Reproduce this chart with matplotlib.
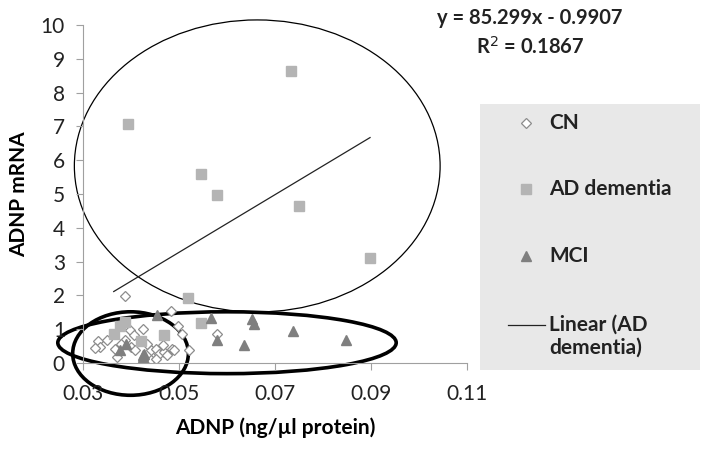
import matplotlib
matplotlib.use("Agg")
import matplotlib.pyplot as plt
from matplotlib.patches import Ellipse, Rectangle
from matplotlib.lines import Line2D
import numpy as np

plt.rcParams['font.family'] = ['Lato', 'DejaVu Sans']

# CN (control) points
cn_x = [0.0387, 0.0483, 0.0497, 0.0506, 0.0579, 0.0424, 0.0520, 0.0331, 0.0336,
        0.0326, 0.0350, 0.0367, 0.0370, 0.0388, 0.0397, 0.0400, 0.0409, 0.0441,
        0.0452, 0.0459, 0.0469, 0.0476, 0.0486, 0.0441, 0.0452, 0.0466, 0.0407,
        0.0490, 0.0379, 0.0434]
cn_y = [1.97, 1.54, 1.09, 0.87, 0.87, 1.00, 0.39, 0.64, 0.47,
        0.44, 0.67, 0.42, 0.18, 0.67, 0.97, 0.47, 0.38, 0.38,
        0.42, 0.28, 0.33, 0.23, 0.42, 0.08, 0.13, 0.52, 0.82,
        0.38, 0.57, 0.57]

# AD dementia points
ad_x = [0.0394, 0.0733, 0.0546, 0.0579, 0.0749, 0.0898, 0.0518, 0.0546, 0.0468,
        0.0421, 0.0388, 0.0364, 0.0378]
ad_y = [7.06, 8.64, 5.58, 4.97, 4.64, 3.12, 1.92, 1.18, 0.82,
        0.64, 1.21, 0.87, 1.10]

# MCI points
mci_x = [0.0455, 0.0566, 0.0652, 0.0656, 0.0580, 0.0635, 0.0738, 0.0848, 0.0426,
         0.0378, 0.0424, 0.0390, 0.0428]
mci_y = [1.41, 1.34, 1.31, 1.15, 0.67, 0.54, 0.95, 0.69, 0.18,
         0.38, 0.23, 0.57, 0.28]

# trendline for AD dementia
slope, intercept = 85.299, -0.9907
r2 = 0.1867

# hand-drawn ellipses (center x, center y, width, height, line width)
ellipses = [(0.0663, 5.83, 0.0762, 8.64, 0.9),
            (0.0600, 0.60, 0.0705, 1.83, 2.6),
            (0.0399, 0.28, 0.0241, 2.47, 2.6)]

W, H = 712, 449
def fx(px):
    return px / W
def fy(py):
    return 1 - py / H

fig = plt.figure(figsize=(7.12, 4.49), dpi=100)
ax = fig.add_axes([fx(83), fy(363), (467 - 83) / W, (363 - 25) / H])

ax.plot(cn_x, cn_y, 'D', ms=5.2, mfc='white', mec='#8c8c8c', mew=0.9, ls='none')
ax.plot(ad_x, ad_y, 's', ms=7.5, color='#b4b4b4', ls='none')
ax.plot(mci_x, mci_y, '^', ms=7.5, color='#7f7f7f', ls='none')

xs = np.array([min(ad_x), max(ad_x)])
ax.plot(xs, slope * xs + intercept, color='#222222', lw=0.9)

for cx, cy, w, h, lw in ellipses:
    ax.add_patch(Ellipse((cx, cy), w, h, fill=False, ec='black', lw=lw, clip_on=False))

ax.set_xlim(0.03, 0.11)
ax.set_ylim(0, 10)
ax.set_xticks([0.03, 0.05, 0.07, 0.09, 0.11])
ax.set_xticklabels(['0.03', '0.05', '0.07', '0.09', '0.11'])
ax.set_yticks(range(0, 11))
for s in ['top', 'right']:
    ax.spines[s].set_visible(False)
for s in ['left', 'bottom']:
    ax.spines[s].set_color('#a0a0a0')
ax.tick_params(colors='#a0a0a0', labelcolor='#222222', labelsize=15, length=5)
ax.tick_params(axis='x', pad=10)
ax.tick_params(axis='y', pad=8)
ax.set_xlabel('ADNP (ng/µl protein)', fontsize=15, fontweight='bold', labelpad=10)
ax.set_ylabel('ADNP mRNA', fontsize=15, fontweight='bold', labelpad=8)

fig.text(fx(530), fy(18), 'y = 85.299x - 0.9907', ha='center', va='center',
         fontsize=14.5, fontweight='bold', color='#222222')
fig.text(fx(530), fy(47), 'R$^2$ = 0.1867', ha='center', va='center',
         fontsize=14.5, fontweight='bold', color='#222222')

# legend
fig.add_artist(Rectangle((fx(480), fy(370)), 220 / W, 266 / H,
                         transform=fig.transFigure, fc='#e8e8e8', ec='none', zorder=0))
fig.add_artist(Line2D([fx(526)], [fy(123)], marker='D', ms=5.2, mfc='white',
                      mec='#8c8c8c', mew=0.9, ls='none', transform=fig.transFigure))
fig.add_artist(Line2D([fx(526)], [fy(189)], marker='s', ms=7.5, color='#b4b4b4',
                      ls='none', transform=fig.transFigure))
fig.add_artist(Line2D([fx(526)], [fy(256)], marker='^', ms=7.5, color='#7f7f7f',
                      ls='none', transform=fig.transFigure))
fig.add_artist(Line2D([fx(508), fx(545)], [fy(325), fy(325)], color='#222222', lw=0.9,
                      transform=fig.transFigure))
for py, lab in [(123, 'CN'), (189, 'AD dementia'), (256, 'MCI'),
                (325, 'Linear (AD'), (348, 'dementia)')]:
    fig.text(fx(549), fy(py), lab, ha='left', va='center', fontsize=15,
             fontweight='bold', color='#222222')

fig.savefig('out.png', dpi=100)
